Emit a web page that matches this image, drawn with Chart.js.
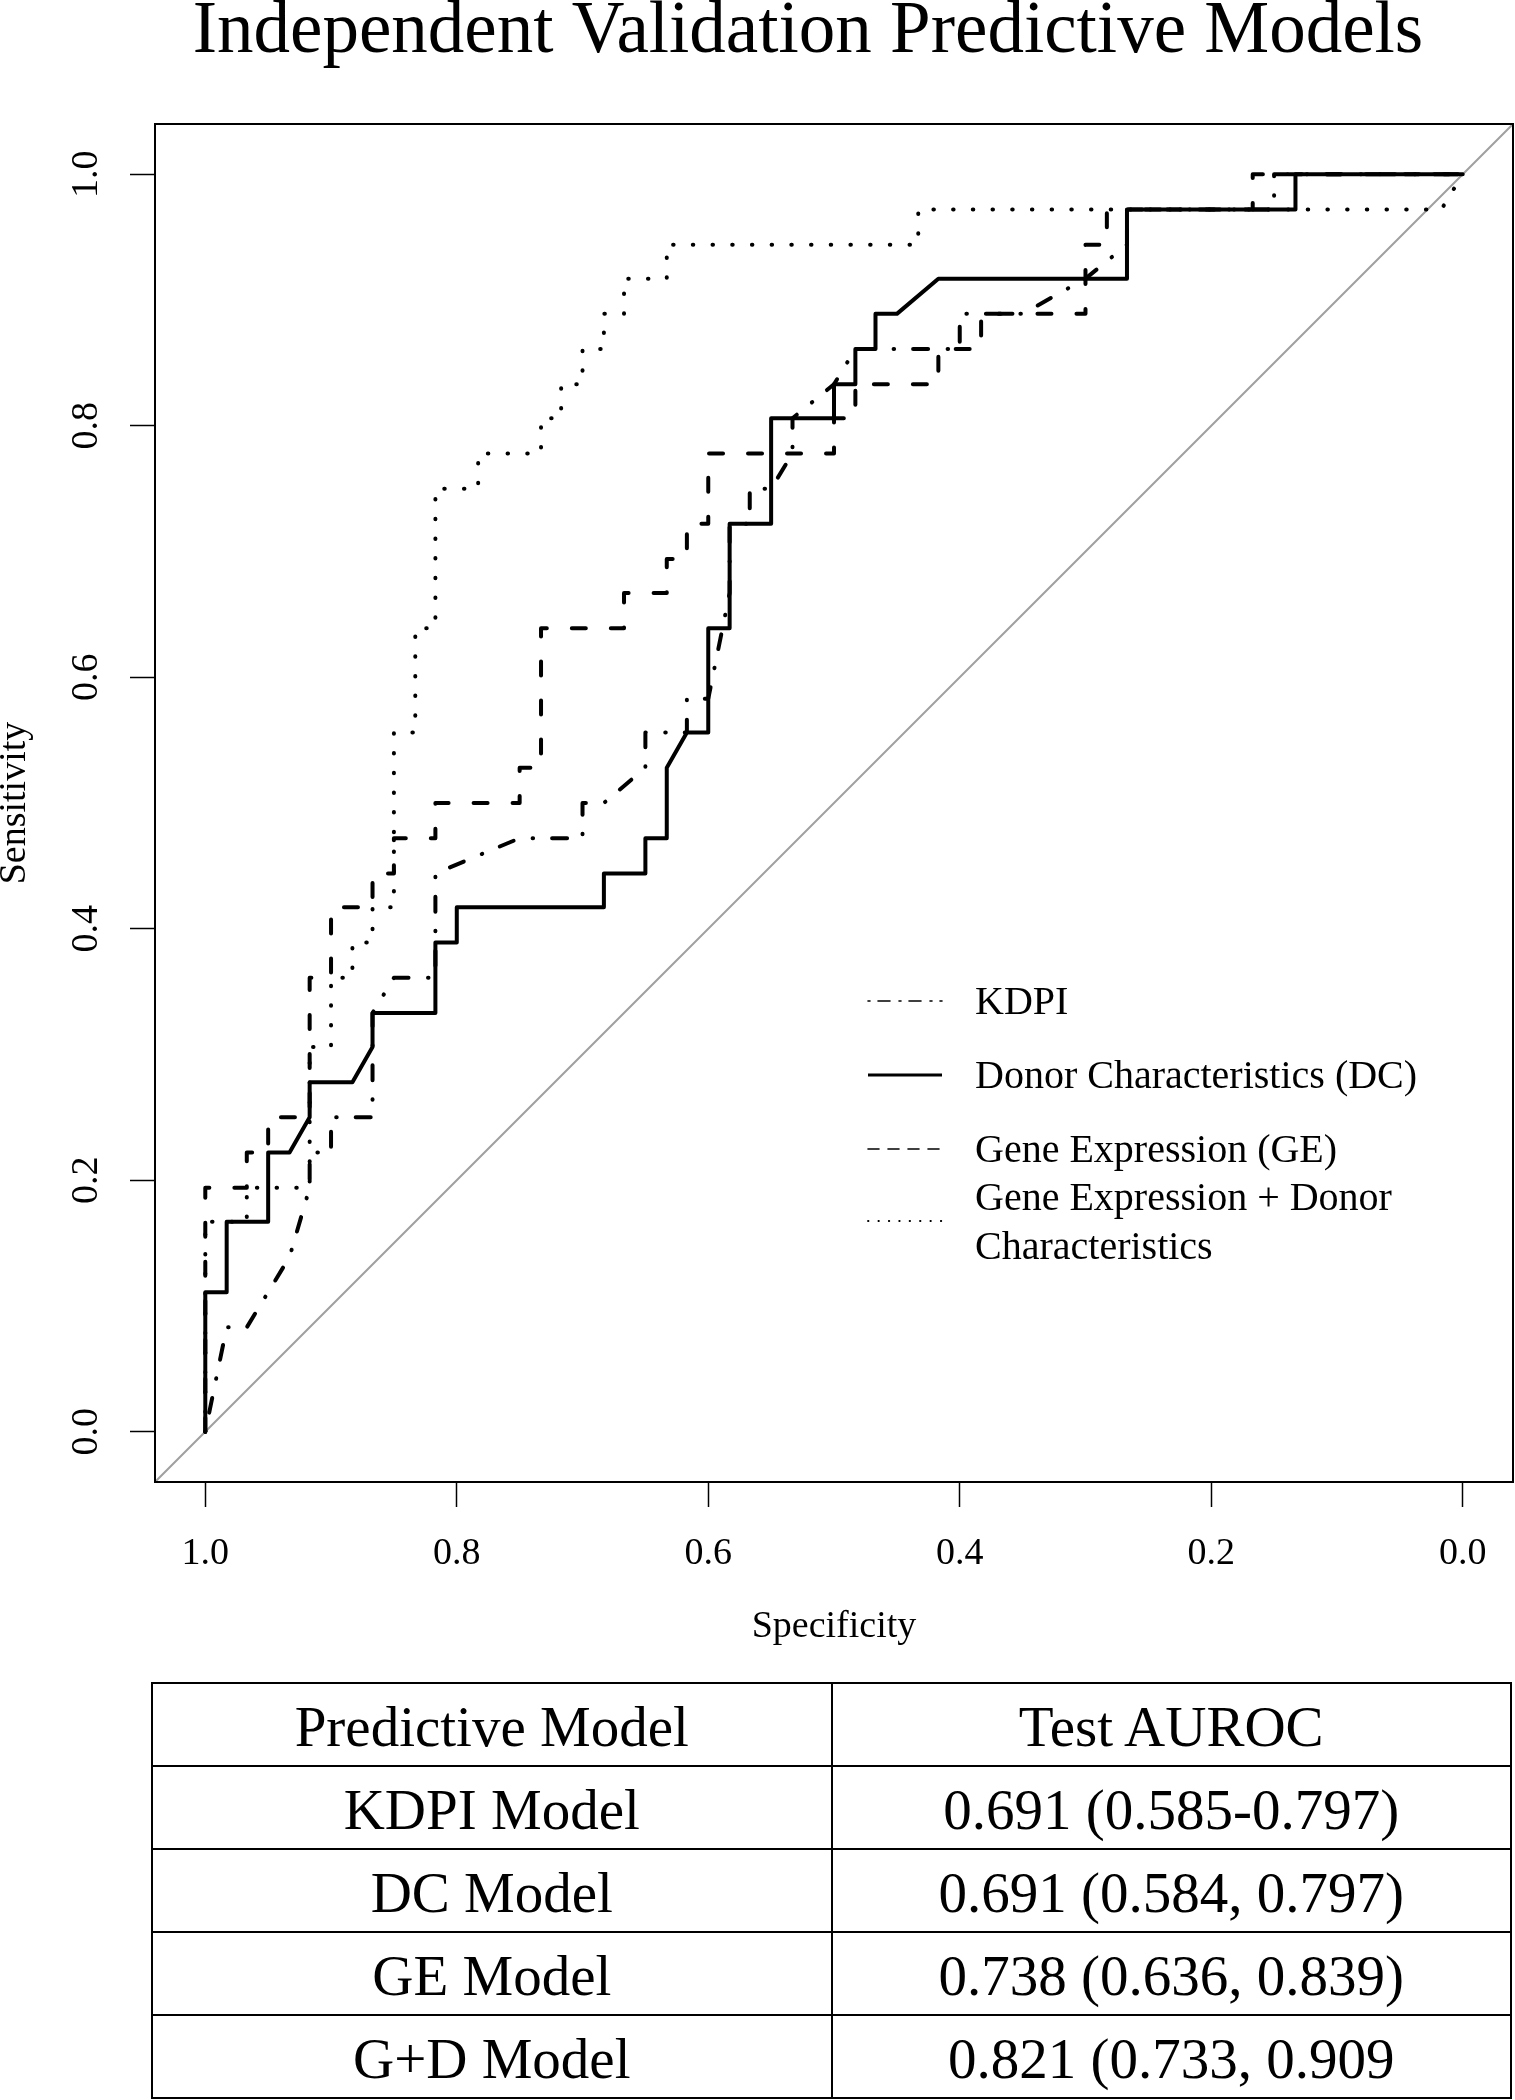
<!DOCTYPE html>
<html>
<head>
<meta charset="utf-8">
<title>Independent Validation Predictive Models</title>
<script src="https://cdn.jsdelivr.net/npm/chart.js"></script>
<style>
  body { margin: 0; background: #fff; }
  #wrap { position: relative; width: 1515px; height: 2100px; }
  #roc { position: absolute; left: 0; top: 0; }
  #auroc {
    position: absolute; left: 151px; top: 1682px; width: 1361px;
    border-collapse: collapse;
    font-family: 'Liberation Serif', 'Times New Roman', serif; font-size: 57px; color: #000;
  }
  #auroc tr { height: 83px; }
  #auroc td { border: 2px solid #000; padding: 3px 0 0 0; width: 50%; text-align: center; vertical-align: middle; }
</style>
</head>
<body>
<div id="wrap">
  <canvas id="roc" width="1515" height="1670" style="width:1515px;height:1670px"></canvas>
  <table id="auroc"></table>
</div>
<script>
// ---- data (x = specificity, y = sensitivity) ----
const kdpiSpec = [1, 0.983, 0.967, 0.95, 0.933, 0.917, 0.917, 0.9, 0.9, 0.867, 0.867, 0.85, 0.817, 0.817, 0.75,
                  0.7, 0.7, 0.683, 0.65, 0.65, 0.617, 0.617, 0.6, 0.583, 0.583, 0.567, 0.567, 0.55, 0.533, 0.533,
                  0.5, 0.483, 0.4, 0.4, 0.35, 0.3, 0.267, 0.267, 0.15, 0.15, 0];
const kdpiSens = [0, 0.083, 0.083, 0.111, 0.139, 0.194, 0.222, 0.222, 0.25, 0.25, 0.333, 0.361, 0.361, 0.444, 0.472,
                  0.472, 0.5, 0.5, 0.528, 0.556, 0.556, 0.583, 0.583, 0.667, 0.722, 0.722, 0.75, 0.75, 0.778, 0.806,
                  0.833, 0.861, 0.861, 0.889, 0.889, 0.917, 0.944, 0.972, 0.972, 1, 1];

const dcSpec = [1, 1, 0.983, 0.983, 0.95, 0.95, 0.933, 0.917, 0.917, 0.883, 0.867, 0.867, 0.817, 0.817, 0.8,
                0.8, 0.683, 0.683, 0.65, 0.65, 0.633, 0.633, 0.617, 0.6, 0.6, 0.583, 0.583, 0.55, 0.55, 0.5,
                0.5, 0.483, 0.483, 0.467, 0.467, 0.45, 0.417, 0.267, 0.267, 0.133, 0.133, 0];
const dcSens = [0, 0.111, 0.111, 0.167, 0.167, 0.222, 0.222, 0.25, 0.278, 0.278, 0.306, 0.333, 0.333, 0.389, 0.389,
                0.417, 0.417, 0.444, 0.444, 0.472, 0.472, 0.528, 0.556, 0.556, 0.639, 0.639, 0.722, 0.722, 0.806, 0.806,
                0.833, 0.833, 0.861, 0.861, 0.889, 0.889, 0.917, 0.917, 0.972, 0.972, 1, 1];

const geSpec = [1, 1, 0.967, 0.967, 0.95, 0.95, 0.917, 0.917, 0.9, 0.9, 0.867, 0.867, 0.85, 0.85, 0.817,
                0.817, 0.75, 0.75, 0.733, 0.733, 0.667, 0.667, 0.633, 0.633, 0.617, 0.617, 0.6, 0.6, 0.5, 0.5,
                0.483, 0.483, 0.417, 0.417, 0.383, 0.383, 0.3, 0.3, 0.283, 0.283, 0.167, 0.167, 0];
const geSens = [0, 0.194, 0.194, 0.222, 0.222, 0.25, 0.25, 0.361, 0.361, 0.417, 0.417, 0.444, 0.444, 0.472, 0.472,
                0.5, 0.5, 0.528, 0.528, 0.639, 0.639, 0.667, 0.667, 0.694, 0.694, 0.722, 0.722, 0.778, 0.778, 0.806,
                0.806, 0.833, 0.833, 0.861, 0.861, 0.889, 0.889, 0.944, 0.944, 0.972, 0.972, 1, 1];

const gdSpec = [1, 1, 0.967, 0.967, 0.917, 0.917, 0.9, 0.9, 0.883, 0.883, 0.867, 0.867, 0.85, 0.85, 0.833,
                0.833, 0.817, 0.817, 0.783, 0.783, 0.733, 0.733, 0.717, 0.717, 0.7, 0.7, 0.683, 0.683, 0.667, 0.667,
                0.633, 0.633, 0.433, 0.433, 0.017, 0];
const gdSens = [0, 0.167, 0.167, 0.194, 0.194, 0.306, 0.306, 0.361, 0.361, 0.389, 0.389, 0.417, 0.417, 0.556, 0.556,
                0.639, 0.639, 0.75, 0.75, 0.778, 0.778, 0.806, 0.806, 0.833, 0.833, 0.861, 0.861, 0.889, 0.889, 0.917,
                0.917, 0.944, 0.944, 0.972, 0.972, 1];

const tickValues = [0, 0.2, 0.4, 0.6, 0.8, 1.0];
const legendLabels = [['KDPI'], ['Donor Characteristics (DC)'], ['Gene Expression (GE)'], ['Gene Expression + Donor', 'Characteristics']];
const tableHeader = ['Predictive Model', 'Test AUROC'];
const modelNames = ['KDPI Model', 'DC Model', 'GE Model', 'G+D Model'];
const aurocText = ['0.691 (0.585-0.797)', '0.691 (0.584, 0.797)', '0.738 (0.636, 0.839)', '0.821 (0.733, 0.909'];

// ---- styles ----
const SERIF = "'Liberation Serif', 'Times New Roman', serif";
const axisMin = -0.04, axisMax = 1.04;
const dashKdpi = [0.5, 19, 15, 19.5];
const dashGe = [14, 25];
const dashDot = [0.5, 19.2];
const legendDash = [[2, 8, 12, 9], [], [11, 9], [0.5, 9.9]];
const legendWidth = [1.6, 3, 1.6, 1.8];

function toPoints(xs, ys) {
    return xs.map((x, i) => ({ x: x, y: ys[i] }));
}

function curve(label, xs, ys, dash) {
    return {
        label: label,
        data: toPoints(xs, ys),
        borderColor: '#000',
        borderWidth: 4,
        borderDash: dash,
        borderCapStyle: 'round',
        borderJoinStyle: 'round',
        pointRadius: 0,
        fill: false,
        tension: 0,
        order: 0
    };
}

// table
const table = document.getElementById('auroc');
const rows = [tableHeader].concat(modelNames.map((m, i) => [m, aurocText[i]]));
rows.forEach(r => {
    const tr = document.createElement('tr');
    r.forEach(t => {
        const td = document.createElement('td');
        td.textContent = t;
        tr.appendChild(td);
    });
    table.appendChild(tr);
});

// draws the box, rotated y labels, axis titles, main title and legend
const decorations = {
    id: 'decorations',
    afterDraw(chart) {
        const ctx = chart.ctx;
        const area = chart.chartArea;
        const ys = chart.scales.y;
        ctx.save();
        ctx.strokeStyle = '#000';
        ctx.lineWidth = 2;
        ctx.strokeRect(area.left, area.top, area.right - area.left, area.bottom - area.top);

        ctx.fillStyle = '#000';
        ctx.font = '38px ' + SERIF;
        ctx.textAlign = 'center';
        ctx.textBaseline = 'alphabetic';
        tickValues.forEach(v => {
            ctx.save();
            ctx.translate(97, ys.getPixelForValue(v));
            ctx.rotate(-Math.PI / 2);
            ctx.fillText(v.toFixed(1), 0, 0);
            ctx.restore();
        });

        ctx.fillText('Specificity', (area.left + area.right) / 2, 1637);
        ctx.save();
        ctx.translate(25, (area.top + area.bottom) / 2);
        ctx.rotate(-Math.PI / 2);
        ctx.fillText('Sensitivity', 0, 0);
        ctx.restore();

        ctx.font = '73px ' + SERIF;
        ctx.fillText('Independent Validation Predictive Models', 808, 52);

        // legend
        const lineY = [1001, 1075, 1149, 1221];
        ctx.font = '40px ' + SERIF;
        ctx.textAlign = 'left';
        legendLabels.forEach((lines, i) => {
            ctx.beginPath();
            ctx.setLineDash(legendDash[i]);
            ctx.lineWidth = legendWidth[i];
            ctx.lineCap = i === 1 ? 'butt' : 'round';
            ctx.moveTo(868, lineY[i]);
            ctx.lineTo(942, lineY[i]);
            ctx.stroke();
            const step = 49;
            const first = lineY[i] - (lines.length - 1) * step / 2;
            lines.forEach((t, k) => ctx.fillText(t, 975, first + k * step + 13));
        });
        ctx.restore();
    }
};

const sharedGrid = {
    drawOnChartArea: false,
    drawTicks: true,
    tickLength: 25,
    tickColor: '#000',
    tickWidth: 1.5
};

new Chart(document.getElementById('roc'), {
    type: 'line',
    data: {
        datasets: [
            curve('KDPI', kdpiSpec, kdpiSens, dashKdpi),
            curve('Donor Characteristics (DC)', dcSpec, dcSens, []),
            curve('Gene Expression (GE)', geSpec, geSens, dashGe),
            curve('Gene Expression + Donor Characteristics', gdSpec, gdSens, dashDot),
            {
                label: 'chance',
                data: [{ x: axisMin, y: 1 - axisMin }, { x: axisMax, y: 1 - axisMax }],
                borderColor: '#a0a0a0',
                borderWidth: 2,
                pointRadius: 0,
                fill: false,
                order: 1
            }
        ]
    },
    options: {
        responsive: false,
        animation: false,
        devicePixelRatio: 1,
        layout: { padding: { top: 124, right: 2, left: 0, bottom: 0 } },
        plugins: {
            legend: { display: false },
            tooltip: { enabled: false },
            title: { display: false }
        },
        scales: {
            x: {
                type: 'linear',
                reverse: true,
                min: axisMin,
                max: axisMax,
                afterBuildTicks: (s) => { s.ticks = tickValues.map(v => ({ value: v })); },
                afterFit: (s) => { s.height = 188; },
                grid: sharedGrid,
                border: { display: true, color: '#000', width: 2 },
                ticks: {
                    color: '#000',
                    font: { family: SERIF, size: 38, lineHeight: 1.2 },
                    padding: 24,
                    maxRotation: 0,
                    autoSkip: false,
                    callback: (v) => Number(v).toFixed(1)
                }
            },
            y: {
                type: 'linear',
                min: axisMin,
                max: axisMax,
                afterBuildTicks: (s) => { s.ticks = tickValues.map(v => ({ value: v })); },
                afterFit: (s) => { s.width = 155; },
                grid: sharedGrid,
                border: { display: true, color: '#000', width: 2 },
                ticks: { display: false }
            }
        }
    },
    plugins: [decorations]
});
</script>
</body>
</html>
